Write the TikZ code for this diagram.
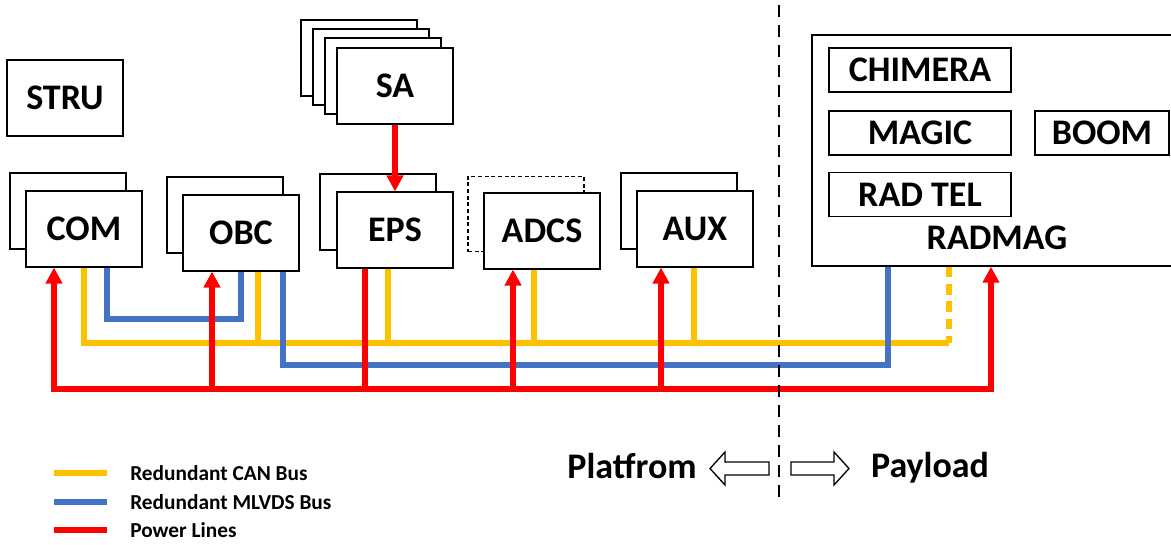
\documentclass[tikz,border=0pt]{standalone}
\usepackage{fontspec}
\setmainfont{Carlito}
\usepackage{tikz}
\usetikzlibrary{
    arrows.meta,
    positioning
}

\definecolor{canbus}{HTML}{FFC000}
\definecolor{mlvdsbus}{HTML}{4472C4}
\definecolor{powerline}{HTML}{FF0000}

\begin{document}
\begin{tikzpicture}[x=0.75pt, y=-0.75pt,
    unit/.style={draw, fill=white, line width=1.3pt, inner sep=2pt, minimum width=87pt, minimum height=56.5pt, font=\fontsize{27}{30}\selectfont\bfseries},
    load/.style={draw, line width=1.3pt, inner sep=2pt, minimum width=136.5pt, minimum height=33pt, font=\fontsize{27}{30}\selectfont\bfseries},
    can/.style={canbus, line width=4pt},
    mlvds/.style={mlvdsbus, line width=4pt},
    power/.style={powerline, line width=4pt},
    feed/.style={power, -{Triangle[width=12pt,length=12pt]}},
    side/.style={font=\fontsize{27}{30}\selectfont\bfseries},
    legend/.style={anchor=west, inner sep=0pt, font=\fontsize{16}{18}\selectfont\bfseries}]
                        \useasboundingbox (0,0) rectangle (1171,544);

                        % platform
                        \node[unit] (stru) at (65,98) {STRU};

                        \node[unit] (com2) at (68,211) {};
                        \node[unit] (com) at (84,229) {COM};

                        \node[unit] (obc2) at (225,215) {};
                        \node[unit] (obc) at (241,233) {OBC};

                        \node[unit] (sa3) at (359,58) {};
                        \node[unit] (sa2) at (371,67) {};
                        \node[unit] (sa1) at (383,76) {};
                        \node[unit] (sa) at (395,86) {SA};

                        \node[unit] (eps2) at (378,212) {};
                        \node[unit] (eps) at (395,230) {EPS};

                        \node[unit, line width=0.8pt, dash pattern=on 3pt off 2pt] (adcs2) at (526,214) {};
                        \node[unit] (adcs) at (542,231) {ADCS};

                        \node[unit] (aux2) at (679,211) {};
                        \node[unit] (aux) at (695,229) {AUX};

                        % payload
                        \node[draw, line width=1.3pt, minimum width=272pt, minimum height=173pt] (radmag) at (993.5,150.5) {};
                        \node[side] (radlabel) at (997,238) {RADMAG};
                        \node[load] (chimera) at (920,70) {CHIMERA};
                        \node[load] (magic) at (920,133) {MAGIC};
                        \node[load, minimum width=100.5pt] (boom) at (1102,133) {BOOM};
                        \node[load] (radtel) at (920,194.5) {RAD TEL};

                        % bus corners and taps
                        \coordinate (canl) at (84,343);
                        \coordinate (canr) at (949,343);
                        \coordinate (canobc) at (258,343);
                        \coordinate (caneps) at (388,343);
                        \coordinate (canadcs) at (534,343);
                        \coordinate (canaux) at (694,343);

                        \coordinate (mla) at (107,319);
                        \coordinate (mlb) at (241,319);
                        \coordinate (mlc) at (283,365);
                        \coordinate (mld) at (888,365);

                        \coordinate (pwl) at (54,389);
                        \coordinate (pwr) at (991,389);
                        \coordinate (pwobc) at (212,389);
                        \coordinate (pweps) at (365,389);
                        \coordinate (pwadcs) at (513,389);
                        \coordinate (pwaux) at (661,389);

                        % CAN bus
                        \draw[can] (com.south -| canl) -- (canl) -- (canr);
                        \draw[can, dash pattern=on 8pt off 5pt] (radmag.south -| canr) -- (canr);
                        \draw[can]
                        (obc.south -| canobc) -- (canobc)
                        (eps.south -| caneps) -- (caneps)
                        (adcs.south -| canadcs) -- (canadcs)
                        (aux.south -| canaux) -- (canaux);

                        % MLVDS bus
                        \draw[mlvds] (com.south -| mla) -- (mla) -- (mlb) -- (obc.south -| mlb);
                        \draw[mlvds] (obc.south -| mlc) -- (mlc) -- (mld) -- (radmag.south -| mld);

                        % power lines
                        \draw[power, {Triangle[width=12pt,length=12pt]}-{Triangle[width=12pt,length=12pt]}]
                        (com.south -| pwl) -- (pwl) -- (pwr) -- (radmag.south -| pwr);
                        \draw[feed] (pwobc) -- (obc.south -| pwobc);
                        \draw[power] (eps.south -| pweps) -- (pweps);
                        \draw[feed] (pwadcs) -- (adcs.south -| pwadcs);
                        \draw[feed] (pwaux) -- (aux.south -| pwaux);
                        \draw[feed] (sa) -- (eps);

                        % divider
                        \coordinate (divtop) at (779,5);
                        \coordinate (divbot) at (779,500);
                        \draw[line width=1.5pt, dash pattern=on 9pt off 6pt] (divtop) -- (divbot);

                        \node[side] (platform) at (632,466) {Platfrom};
                        \node[side] (payload) at (930,468) {Payload};
                        \draw[line width=1pt, fill=white] (710,468.5) -- (725,452) -- (725,462) -- (769,462) -- (769,475) -- (725,475) -- (725,485) -- cycle;
                        \draw[line width=1pt, fill=white] (849,468.5) -- (834,452) -- (834,462) -- (791,462) -- (791,475) -- (834,475) -- (834,485) -- cycle;

                        % legend
                        \coordinate (lgcana) at (54,473);
                        \coordinate (lgcanb) at (107,473);
                        \coordinate (lgmla) at (54,502);
                        \coordinate (lgmlb) at (107,502);
                        \coordinate (lgpwa) at (54,530);
                        \coordinate (lgpwb) at (107,530);
                        \draw[can] (lgcana) -- (lgcanb);
                        \draw[mlvds] (lgmla) -- (lgmlb);
                        \draw[power] (lgpwa) -- (lgpwb);
                        \node[legend] (lgcan) at (130,473) {Redundant CAN Bus};
                        \node[legend] (lgml) at (130,502) {Redundant MLVDS Bus};
                        \node[legend] (lgpw) at (130,530) {Power Lines};
                    \end{tikzpicture}
\end{document}
